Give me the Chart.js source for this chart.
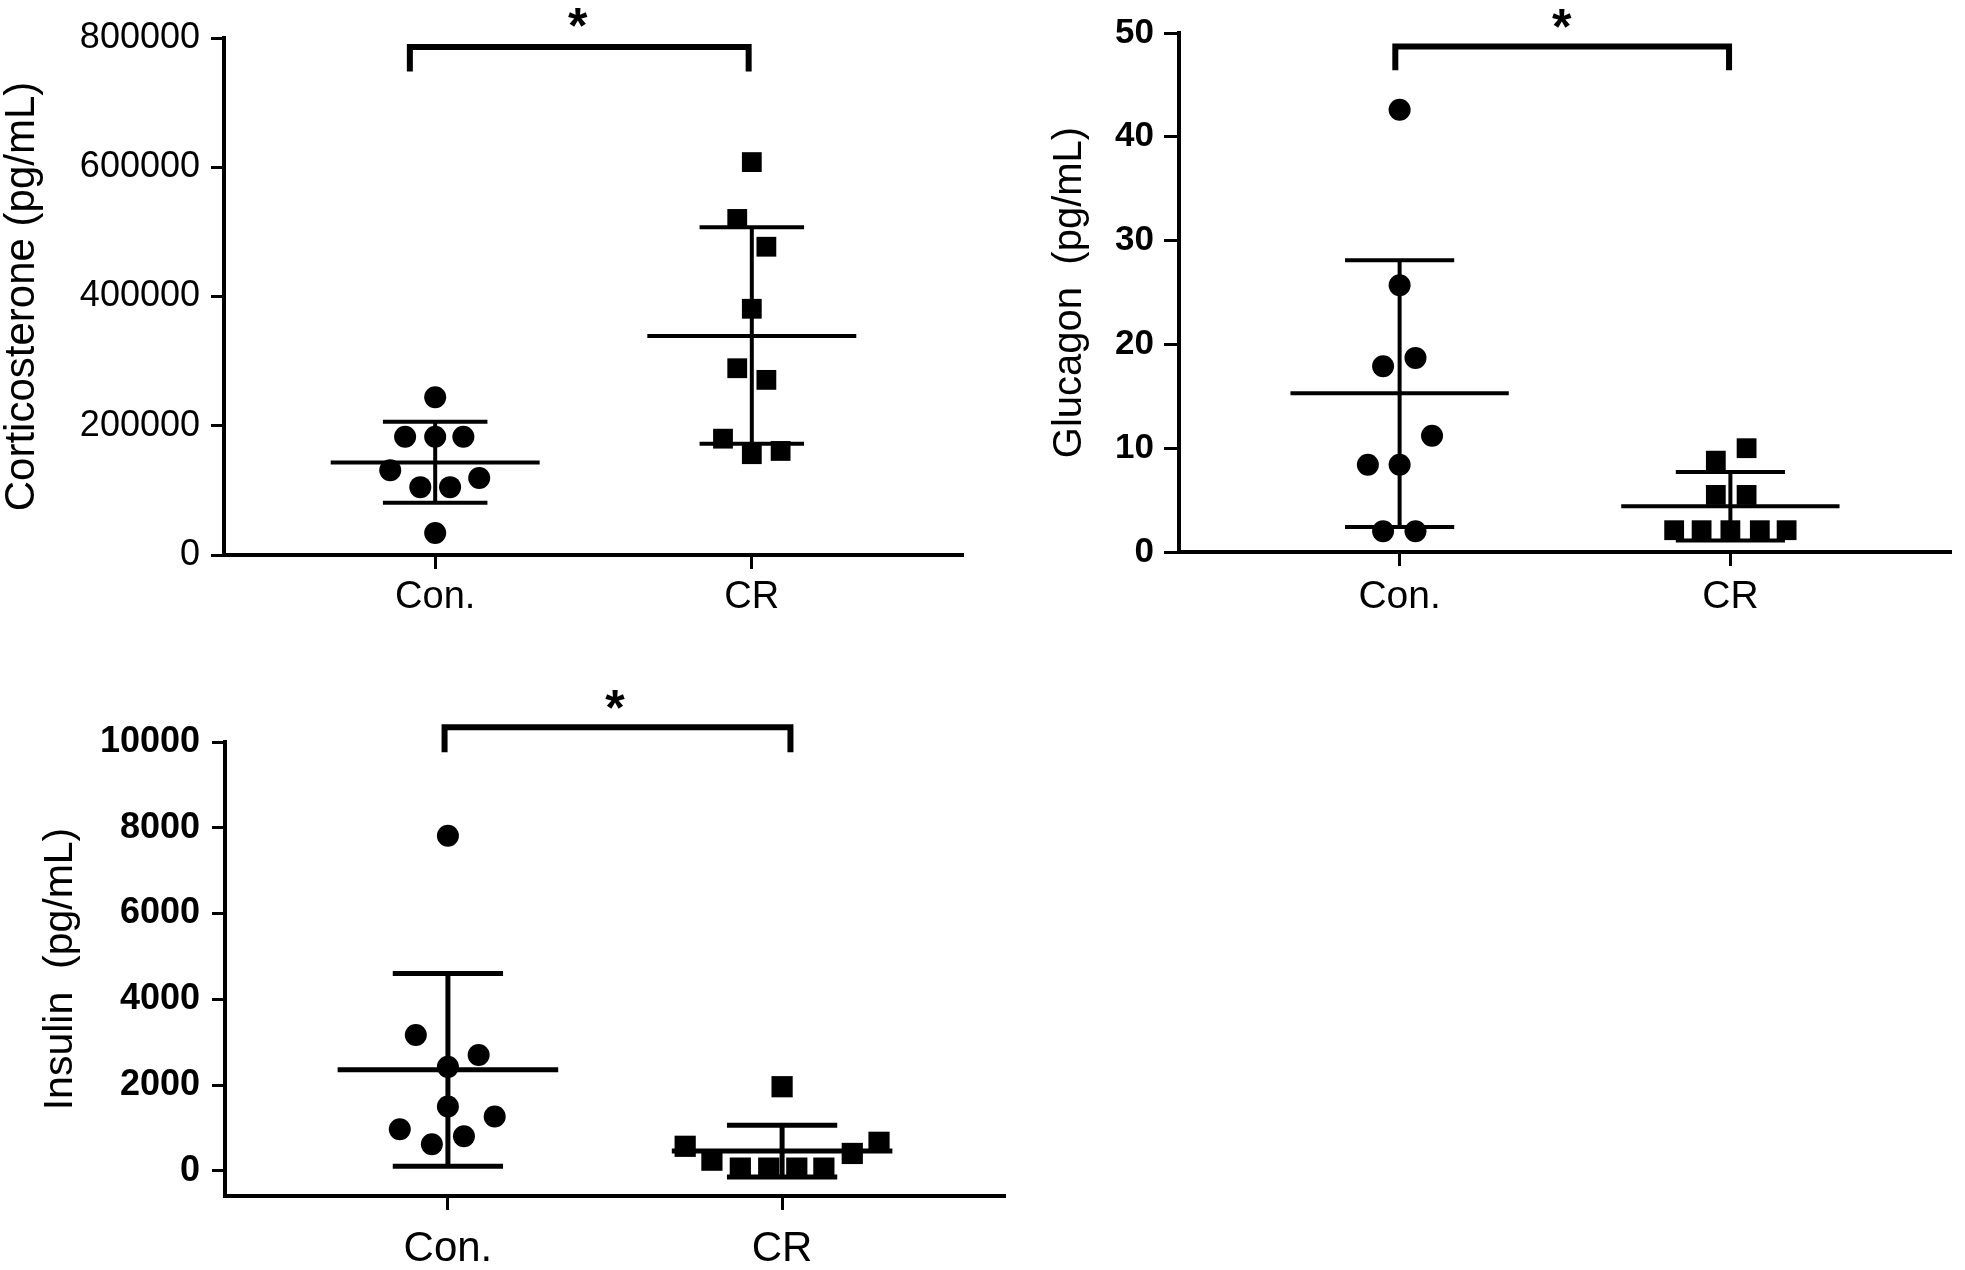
<!DOCTYPE html>
<html>
<head>
<meta charset="utf-8">
<script src="https://cdn.jsdelivr.net/npm/chart.js@4.4.1/dist/chart.umd.min.js"></script>
<style>
    html, body { margin: 0; padding: 0; background: #fff; }
    body { width: 1965px; height: 1270px; position: relative; overflow: hidden; }
    canvas { position: absolute; }
</style>
</head>
<body>
<canvas id="cort-chart" width="980" height="640" style="left:0;top:0"></canvas>
<canvas id="gluc-chart" width="965" height="640" style="left:1000px;top:0"></canvas>
<canvas id="insu-chart" width="1020" height="630" style="left:0;top:640px"></canvas>
<script>
// Grupos (eixo x)
const groups = ['Con.', 'CR'];

// Corticosterona
const cortTicks = [0, 200000, 400000, 600000, 800000];
const cortConY = [244000, 183000, 183000, 183000, 131000, 105000, 105000, 119000, 34000];
const cortConJitter = [0, -0.095, 0, 0.089, -0.142, -0.047, 0.047, 0.139, 0];
const cortCrY = [608000, 520000, 477000, 381000, 289000, 271000, 180000, 156000, 161000];
const cortCrJitter = [0, -0.046, 0.046, 0, -0.046, 0.046, -0.091, 0, 0.091];
const cortMean = [143000, 339000];
const cortSdHigh = [206000, 507000];
const cortSdLow = [81000, 172000];
const cortBracketX = [0.92, 1.99];
const cortBracketY = [748000, 786000];
const cortStar = [1.45, 835000];

// Glucagon
const glucTicks = [0, 10, 20, 30, 40, 50];
const glucConY = [42.6, 25.7, 18.7, 17.9, 11.2, 8.4, 8.4, 2.0, 2.0];
const glucConJitter = [0, 0, 0.048, -0.05, 0.098, -0.096, 0, -0.05, 0.048];
const glucCrY = [10.0, 8.8, 5.5, 5.5, 2.1, 2.1, 2.1, 2.1, 2.1];
const glucCrJitter = [0.049, -0.044, -0.044, 0.049, -0.17, -0.087, 0, 0.089, 0.17];
const glucMean = [15.3, 4.4];
const glucSdHigh = [28.1, 7.7];
const glucSdLow = [2.4, 1.1];
const glucBracketX = [0.987, 1.996];
const glucBracketY = [46.4, 48.7];
const glucStar = [1.49, 51.6];

// Insulina
const insuTicks = [0, 2000, 4000, 6000, 8000, 10000];
const insuConY = [7815, 3167, 2704, 2426, 1500, 1268, 972, 806, 620];
const insuConJitter = [0, -0.096, 0.092, 0, 0, 0.14, -0.144, 0.048, -0.048];
const insuCrY = [1963, 574, 667, 250, 407, 65, 65, 65, 65];
const insuCrJitter = [0, -0.29, 0.29, -0.21, 0.21, -0.125, -0.04, 0.044, 0.125];
const insuMean = [2361, 463];
const insuSdHigh = [4602, 1065];
const insuSdLow = [111, -140];
const insuBracketX = [0.99, 2.025];
const insuBracketY = [9759, 10342];
const insuStar = [1.5, 11040];

const FONT = "'Liberation Sans', Arial, sans-serif";

// Segmento de linha desenhado pelo próprio Chart.js
function segment(points, width) {
    return {
        type: 'line',
        data: points.map(p => ({ x: p[0], y: p[1] })),
        borderColor: '#000',
        borderWidth: width,
        borderCapStyle: 'butt',
        borderJoinStyle: 'miter',
        pointRadius: 0,
        fill: false,
        tension: 0,
        clip: false
    };
}

// Asterisco de significância
const starPlugin = {
    id: 'star',
    afterDatasetsDraw(chart, args, opts) {
        const { ctx, scales } = chart;
        const x = scales.x.getPixelForValue(opts.pos[0]);
        const y = scales.y.getPixelForValue(opts.pos[1]);
        ctx.save();
        ctx.fillStyle = '#000';
        ctx.font = 'bold ' + opts.size + 'px ' + FONT;
        ctx.textAlign = 'center';
        ctx.textBaseline = 'alphabetic';
        ctx.fillText('*', x, y + opts.size * 0.55);
        ctx.restore();
    }
};

function buildPanel(id, p) {
    const datasets = [];
    const means = p.mean, hi = p.sdHigh, lo = p.sdLow;
    for (let g = 0; g < groups.length; g++) {
        const cx = g + 1;
        datasets.push(segment([[cx - 0.33, means[g]], [cx + 0.33, means[g]]], p.lineW));
        datasets.push(segment([[cx, lo[g]], [cx, hi[g]]], p.lineW));
        datasets.push(segment([[cx - 0.165, hi[g]], [cx + 0.165, hi[g]]], p.lineW));
        datasets.push(segment([[cx - 0.165, lo[g]], [cx + 0.165, lo[g]]], p.lineW));
    }
    const bx = p.bracketX, by = p.bracketY;
    datasets.push(segment([[bx[0], by[0]], [bx[0], by[1]], [bx[1], by[1]], [bx[1], by[0]]], p.bracketW));

    datasets.push({
        type: 'scatter',
        data: p.conY.map((y, i) => ({ x: 1 + p.conJitter[i], y: y })),
        pointStyle: 'circle',
        pointRadius: p.dotR,
        backgroundColor: '#000',
        borderWidth: 0,
        clip: false
    });
    datasets.push({
        type: 'scatter',
        data: p.crY.map((y, i) => ({ x: 2 + p.crJitter[i], y: y })),
        pointStyle: 'rect',
        pointRadius: p.rectR,
        backgroundColor: '#000',
        borderWidth: 0,
        clip: false
    });

    const ctx = document.getElementById(id).getContext('2d');
    return new Chart(ctx, {
        type: 'scatter',
        data: { datasets: datasets },
        plugins: [starPlugin],
        options: {
            responsive: false,
            animation: false,
            devicePixelRatio: 1,
            layout: { padding: { left: 0, right: p.padRight, top: p.padTop, bottom: 0 } },
            plugins: {
                legend: { display: false },
                tooltip: { enabled: false },
                star: { pos: p.star, size: 50 }
            },
            scales: {
                x: {
                    type: 'linear',
                    min: 0.333,
                    max: 2.667,
                    afterBuildTicks: s => { s.ticks = [{ value: 1 }, { value: 2 }]; },
                    afterFit: s => { s.height = p.xAxisH; },
                    ticks: {
                        autoSkip: false,
                        maxRotation: 0,
                        color: '#000',
                        padding: p.xPad,
                        font: { family: FONT, size: p.catSize },
                        callback: v => groups[Math.round(v) - 1]
                    },
                    grid: { drawOnChartArea: false, drawTicks: true, tickLength: 14, tickWidth: 3, color: '#000' },
                    border: { display: true, width: 4, color: '#000' }
                },
                y: {
                    type: 'linear',
                    min: p.yMin,
                    max: p.yMax,
                    afterBuildTicks: s => { s.ticks = p.ticks.map(v => ({ value: v })); },
                    afterFit: s => { s.width = p.yAxisW; },
                    ticks: {
                        color: '#000',
                        padding: p.yPad,
                        font: { family: FONT, size: p.tickSize, weight: p.tickWeight },
                        callback: v => String(v)
                    },
                    grid: { drawOnChartArea: false, drawTicks: true, tickLength: p.tickLen, tickWidth: 3, color: '#000' },
                    border: { display: true, width: 4, color: '#000' },
                    title: {
                        display: true,
                        text: p.title,
                        color: '#000',
                        font: { family: FONT, size: p.titleSize },
                        padding: { top: p.titlePad, bottom: 0 }
                    }
                }
            }
        }
    });
}

buildPanel('cort-chart', {
    title: 'Corticosterone (pg/mL)', ticks: cortTicks, yMin: 0, yMax: 800000,
    conY: cortConY, conJitter: cortConJitter, crY: cortCrY, crJitter: cortCrJitter,
    mean: cortMean, sdHigh: cortSdHigh, sdLow: cortSdLow,
    bracketX: cortBracketX, bracketY: cortBracketY, star: cortStar,
    padTop: 38, padRight: 17, yAxisW: 224, xAxisH: 85,
    tickSize: 36, tickWeight: 'normal', tickLen: 13, yPad: 11,
    titleSize: 42, titlePad: -3, catSize: 38, xPad: 6,
    lineW: 4, bracketW: 6, dotR: 11, rectR: 14
});

buildPanel('gluc-chart', {
    title: 'Glucagon  (pg/mL)', ticks: glucTicks, yMin: 0, yMax: 50,
    conY: glucConY, conJitter: glucConJitter, crY: glucCrY, crJitter: glucCrJitter,
    mean: glucMean, sdHigh: glucSdHigh, sdLow: glucSdLow,
    bracketX: glucBracketX, bracketY: glucBracketY, star: glucStar,
    padTop: 33, padRight: 3, yAxisW: 179, xAxisH: 88,
    tickSize: 35, tickWeight: 'bold', tickLen: 15, yPad: 10,
    titleSize: 40, titlePad: 46, catSize: 39, xPad: 8,
    lineW: 4, bracketW: 6, dotR: 11, rectR: 14
});

buildPanel('insu-chart', {
    title: 'Insulin  (pg/mL)', ticks: insuTicks, yMin: -585, yMax: 10000,
    conY: insuConY, conJitter: insuConJitter, crY: insuCrY, crJitter: insuCrJitter,
    mean: insuMean, sdHigh: insuSdHigh, sdLow: insuSdLow,
    bracketX: insuBracketX, bracketY: insuBracketY, star: insuStar,
    padTop: 102, padRight: 15, yAxisW: 225, xAxisH: 74,
    tickSize: 36, tickWeight: 'bold', tickLen: 13, yPad: 12,
    titleSize: 41, titlePad: 36, catSize: 42, xPad: 14,
    lineW: 5, bracketW: 6, dotR: 11, rectR: 15
});
</script>
</body>
</html>
